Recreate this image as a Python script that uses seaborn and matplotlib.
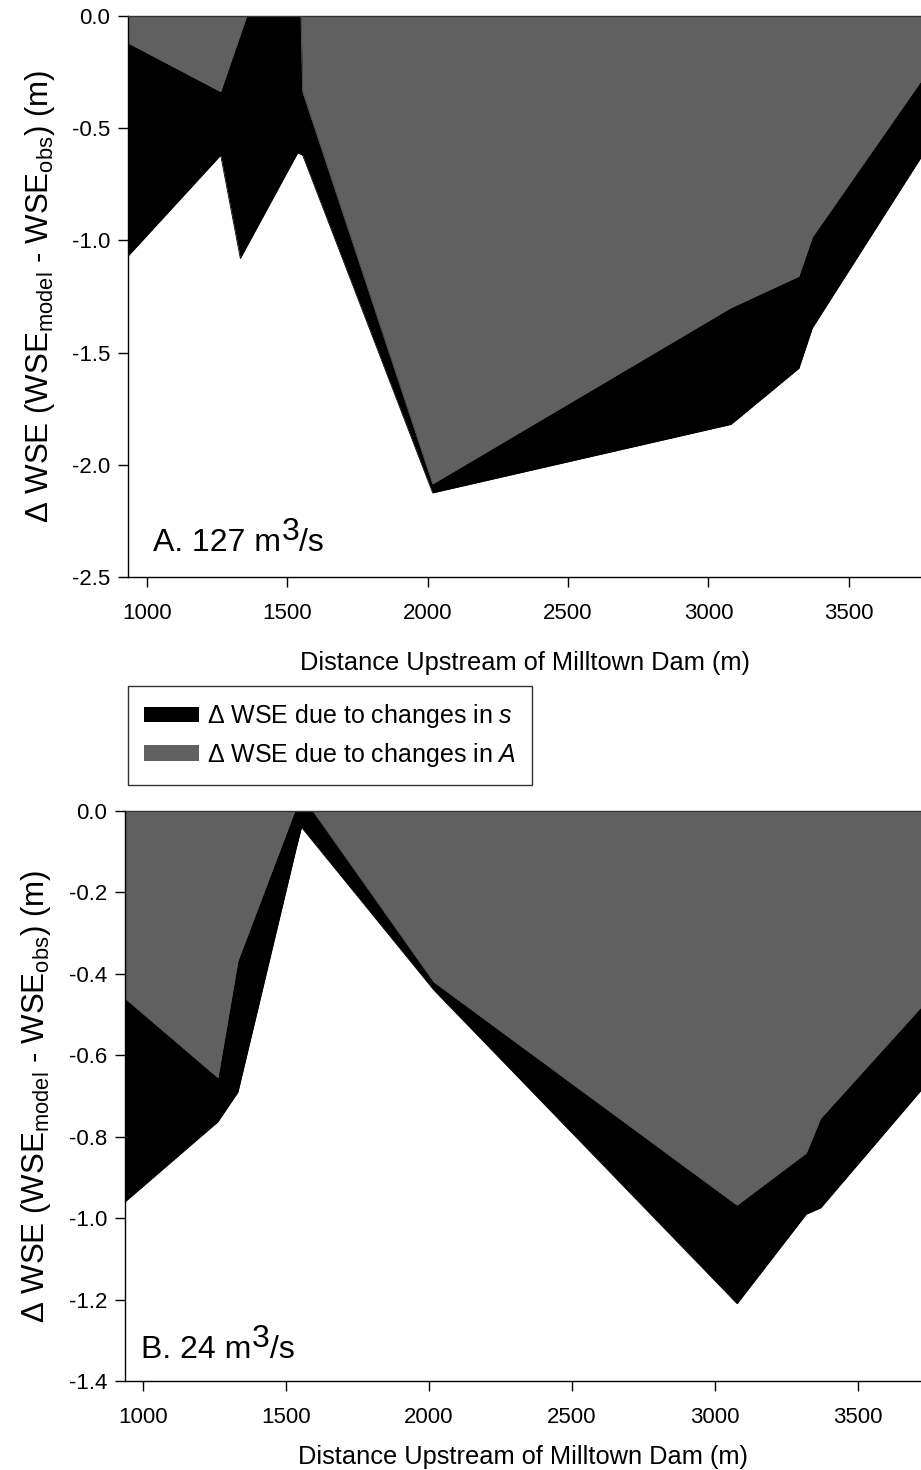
import matplotlib
matplotlib.use("Agg")
import matplotlib.pyplot as plt
import pandas as pd
import seaborn as sns
from matplotlib.patches import Patch
from matplotlib.ticker import FormatStrFormatter, MultipleLocator

# Cross-section stations (m upstream of Milltown Dam) and the water-surface
# elevation error: combined (slope + area) and the part due to area alone.
dist_127 = [933, 1263, 1333, 1537, 1555, 2018, 3080, 3322, 3370, 3757]
combined_127 = [-1.07, -0.62, -1.08, -0.61, -0.62, -2.125, -1.82, -1.57, -1.39, -0.63]
area_127 = [-0.12, -0.337, -0.083, 0.656, -0.337, -2.085, -1.30, -1.16, -0.985, -0.29]

dist_24 = [938, 1263, 1333, 1537, 1555, 2018, 3078, 3320, 3370, 3721]
combined_24 = [-0.96, -0.763, -0.69, -0.09, -0.04, -0.44, -1.21, -0.99, -0.975, -0.686]
area_24 = [-0.46, -0.655, -0.368, 0.01, 0.04, -0.42, -0.968, -0.84, -0.755, -0.482]

panel_labels = ["A. 127 m", "B. 24 m"]
legend_labels = [r"Δ WSE due to changes in $\mathit{s}$",
                 r"Δ WSE due to changes in $\mathit{A}$"]
x_ticks = [1000, 1500, 2000, 2500, 3000, 3500]

SLOPE_COLOR = "#000000"
AREA_COLOR = "#606060"

sns.set_style("ticks")
plt.rcParams["font.family"] = ["Liberation Sans", "DejaVu Sans"]
plt.rcParams["mathtext.fontset"] = "custom"
plt.rcParams["mathtext.rm"] = "Liberation Sans"
plt.rcParams["mathtext.it"] = "Liberation Sans:italic"
plt.rcParams["axes.unicode_minus"] = False
plt.rcParams["text.color"] = "black"
plt.rcParams["axes.labelcolor"] = "black"
plt.rcParams["xtick.color"] = "black"
plt.rcParams["ytick.color"] = "black"

W, H = 921, 1470
fig = plt.figure(figsize=(W / 100, H / 100), dpi=100)


def frac_axes(left, top, right, bottom):
    return fig.add_axes([left / W, 1 - bottom / H, (right - left) / W, (bottom - top) / H])


ax_a = frac_axes(128, 16, 921, 577)
ax_b = frac_axes(125, 811, 921, 1381)

panels = [
    (ax_a, pd.DataFrame({"dist": dist_127, "combined": combined_127, "area": area_127}),
     (933, 3757), (-2.5, 0.0), 0.5, panel_labels[0], (0.0315, 0.046), 19),
    (ax_b, pd.DataFrame({"dist": dist_24, "combined": combined_24, "area": area_24}),
     (938, 3721), (-1.4, 0.0), 0.2, panel_labels[1], (0.02, 0.04), 12),
]

for ax, df, xlim, ylim, ystep, label, lpos, xpad in panels:
    ax.fill_between(df["dist"], 0, df["combined"], color=SLOPE_COLOR, lw=0)
    sns.lineplot(data=df, x="dist", y="combined", ax=ax, color=SLOPE_COLOR,
                 lw=0.6, sort=False, legend=False)
    ax.fill_between(df["dist"], 0, df["area"], color=AREA_COLOR, lw=0)
    sns.lineplot(data=df, x="dist", y="area", ax=ax, color=AREA_COLOR,
                 lw=0.6, sort=False, legend=False)

    ax.set_xlim(*xlim)
    ax.set_ylim(*ylim)
    ax.set_xticks(x_ticks)
    ax.yaxis.set_major_locator(MultipleLocator(ystep))
    ax.yaxis.set_major_formatter(FormatStrFormatter("%.1f"))
    ax.tick_params(axis="both", labelsize=16, length=7, width=1.0,
                   direction="out", colors="black", pad=6)
    ax.tick_params(axis="x", pad=12)
    ax.spines["right"].set_visible(False)
    for side in ("left", "bottom", "top"):
        ax.spines[side].set_color("black")
        ax.spines[side].set_linewidth(1.0)
    ax.spines["top"].set_color("#333333")
    ax.set_facecolor("white")

    ax.set_xlabel("Distance Upstream of Milltown Dam (m)", fontsize=18.3, labelpad=xpad)
    ax.set_ylabel(r"Δ WSE (WSE$_{\mathregular{model}}$ - WSE$_{\mathregular{obs}}$) (m)",
                  fontsize=22.5)
    ax.yaxis.set_label_coords(-0.09, 0.5)

    # Discharge label with a full-size raised exponent
    t1 = ax.text(lpos[0], lpos[1], label, transform=ax.transAxes,
                 fontsize=23, ha="left", va="baseline")
    t2 = ax.annotate("3", xy=(1, 0), xycoords=t1, xytext=(0.5, 8),
                     textcoords="offset points", fontsize=23,
                     ha="left", va="bottom")
    ax.annotate("/s", xy=(1, 0), xycoords=t2, xytext=(0, -8),
                textcoords="offset points", fontsize=23, ha="left", va="bottom")

handles = [Patch(facecolor=SLOPE_COLOR, edgecolor="none"),
           Patch(facecolor=AREA_COLOR, edgecolor="none")]
leg = fig.legend(handles, legend_labels, loc="upper left",
                 bbox_to_anchor=(128 / W, 1 - 686 / H), bbox_transform=fig.transFigure,
                 fontsize=18, frameon=True, fancybox=False, shadow=False,
                 borderpad=0.65, labelspacing=0.42, handlelength=2.2,
                 handleheight=0.6, handletextpad=0.3, borderaxespad=0)
leg.get_frame().set_edgecolor("black")
leg.get_frame().set_linewidth(1.0)
leg.get_frame().set_boxstyle("square", pad=0)

fig.savefig("out.png", dpi=100, facecolor="white")
